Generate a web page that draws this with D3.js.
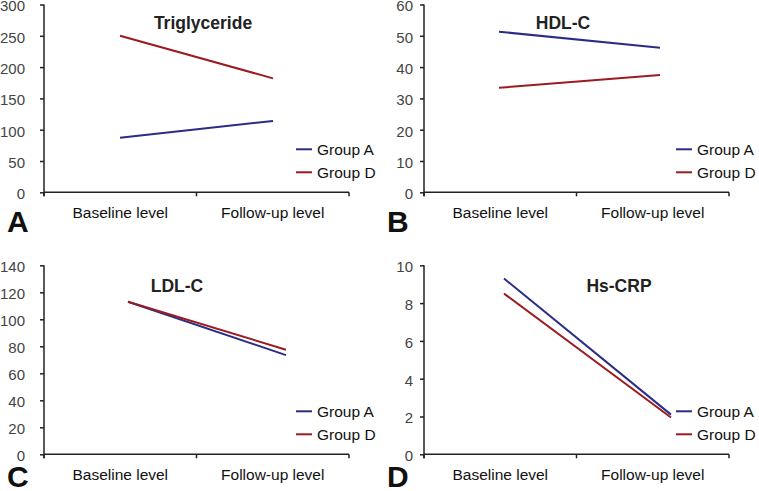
<!DOCTYPE html>
<html><head><meta charset="utf-8">
<script src="https://cdn.jsdelivr.net/npm/d3@7"></script>
<style>
body{margin:0;background:#fff;}
svg{display:block;}
</style></head>
<body><svg id="c" width="759" height="491"></svg>
<script>
const categories = ["Baseline level", "Follow-up level"];
const seriesNames = ["Group A", "Group D"];
const panelLetters = ["A", "B", "C", "D"];
const panelTitles = ["Triglyceride", "HDL-C", "LDL-C", "Hs-CRP"];
const yMax = [300, 60, 140, 10];
const yStep = [50, 10, 20, 2];
// values per panel: [Group A, Group D], each [baseline, follow-up]
const triglycerideA = [87, 114];
const triglycerideD = [250, 182];
const hdlA = [51.3, 46.2];
const hdlD = [33.4, 37.5];
const ldlA = [113, 73.5];
const ldlD = [113, 77.5];
const crpA = [9.3, 2.1];
const crpD = [8.5, 1.95];
const panelValues = [[triglycerideA, triglycerideD], [hdlA, hdlD], [ldlA, ldlD], [crpA, crpD]];

const colors = ["#2a2c86", "#9c1b22"];
// layout
const layout = [
  {x0:44, x1:349, yTop:4.5, yBot:192.3, p0:76, p1:229, tickGap:19, title:[159,23], letterY:232},
  {x0:424, x1:729, yTop:4.5, yBot:192.3, p0:75, p1:236, tickGap:11, title:[139,23], letterY:232},
  {x0:44, x1:349, yTop:265.3, yBot:454.3, p0:84, p1:242, tickGap:19, title:[133,286], letterY:487},
  {x0:424, x1:729, yTop:265.3, yBot:454.3, p0:80, p1:247, tickGap:11, title:[195,286], letterY:487}
];

const svg = d3.select("#c");
const font = "'Liberation Sans', Arial, sans-serif";

panelLetters.forEach((letter, i) => {
  const L = layout[i];
  const g = svg.append("g");
  const y = d3.scaleLinear().domain([0, yMax[i]]).range([L.yBot, L.yTop]);
  const band = d3.scaleBand().domain(categories).range([L.x0, L.x1]).padding(0);
  const xp = d3.scalePoint().domain(categories).range([L.x0 + L.p0, L.x0 + L.p1]);

  // y axis
  const ticks = d3.range(0, yMax[i] + yStep[i] / 2, yStep[i]);
  const yAxis = g.append("g").attr("transform", `translate(${L.x0},0)`)
    .call(d3.axisLeft(y).tickValues(ticks).tickSize(4).tickPadding(L.tickGap - 4).tickFormat(d3.format("d")));
  yAxis.select(".domain").attr("stroke", "#222").attr("stroke-width", 1.5)
    .attr("d", `M0,${L.yTop}V${L.yBot + 4}`);
  yAxis.selectAll(".tick line").attr("stroke", "#222").attr("stroke-width", 1.5);
  yAxis.selectAll(".tick text").attr("font-family", font).attr("font-size", 15)
    .attr("fill", "#444").attr("font-weight", 300).attr("dy", "0.42em");

  // x axis
  const xAxis = g.append("g").attr("transform", `translate(0,${L.yBot})`)
    .call(d3.axisBottom(band).tickSize(0).tickPadding(14));
  xAxis.select(".domain").attr("stroke", "#222").attr("stroke-width", 1.5)
    .attr("d", `M${L.x0},0H${L.x1}`);
  xAxis.selectAll(".tick text").attr("font-family", font).attr("font-size", 15.5)
    .attr("fill", "#111").attr("font-weight", 500).attr("dy", "0.75em");
  // boundary ticks
  const bounds = [L.x0, band(categories[1]), L.x1];
  xAxis.selectAll(".bt").data(bounds).join("line").attr("class", "bt")
    .attr("x1", d => d).attr("x2", d => d).attr("y1", 0).attr("y2", 4)
    .attr("stroke", "#222").attr("stroke-width", 1.5);

  // lines
  const line = d3.line().x((d, j) => xp(categories[j])).y(d => y(d));
  panelValues[i].forEach((vals, s) => {
    g.append("path").datum(vals).attr("d", line).attr("fill", "none")
      .attr("stroke", colors[s]).attr("stroke-width", 2);
  });

  // title
  g.append("text").attr("x", L.x0 + L.title[0]).attr("y", L.title[1]).attr("dy", "0.35em")
    .attr("text-anchor", "middle").attr("font-family", font).attr("font-weight", "bold")
    .attr("font-size", 17.5).attr("fill", "#222").text(panelTitles[i]);

  // legend
  seriesNames.forEach((name, s) => {
    const ly = L.yBot - 43 + s * 23;
    g.append("line").attr("x1", L.x0 + 252).attr("x2", L.x0 + 268).attr("y1", ly).attr("y2", ly)
      .attr("stroke", colors[s]).attr("stroke-width", 2);
    g.append("text").attr("x", L.x0 + 273).attr("y", ly).attr("dy", "0.35em")
      .attr("font-family", font).attr("font-size", 15.5).attr("font-weight", 500)
      .attr("fill", "#111").text(name);
  });

  // panel letter
  g.append("text").attr("x", L.x0 - 37).attr("y", L.letterY)
    .attr("font-family", font).attr("font-weight", 900).attr("font-size", 30)
    .attr("fill", "#111").text(letter);
});
</script></body></html>
